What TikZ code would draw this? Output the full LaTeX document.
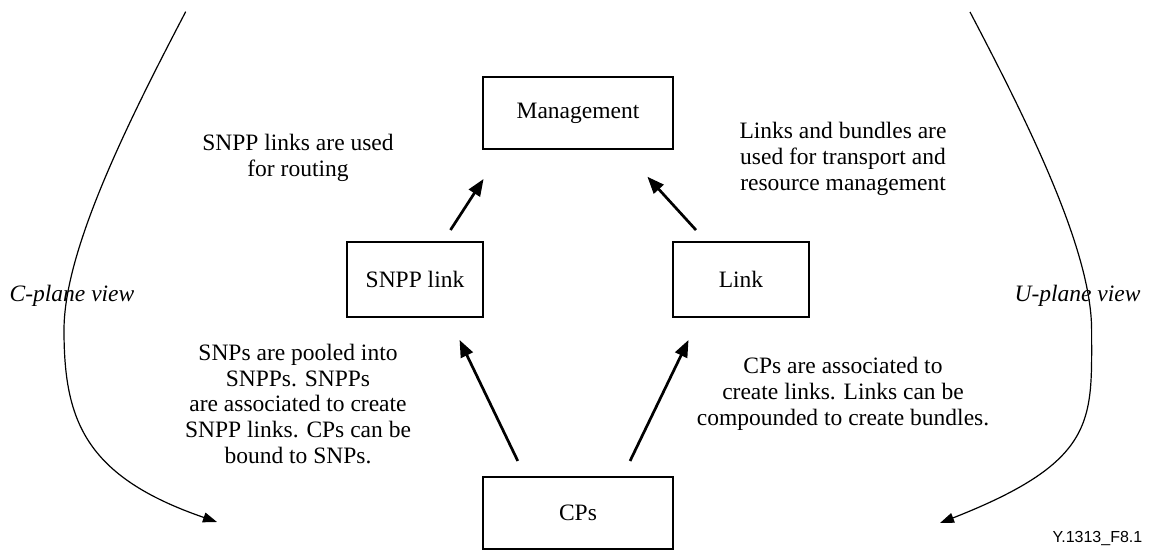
\documentclass[tikz,border=0pt]{standalone}
\usepackage{fontspec}
\setmainfont{Liberation Serif}
\newfontfamily\labelsans{Liberation Sans}
\usetikzlibrary{arrows.meta,calc}

\begin{document}
\begin{tikzpicture}[x=1pt,y=-1pt,
  txt/.style={font=\fontsize{23.5}{25.7}\selectfont},
  box/.style={txt, draw, line width=1.3pt, inner sep=0pt, outer sep=0pt},
  widebox/.style={box, minimum width=190pt, minimum height=72pt},
  narrowbox/.style={box, minimum width=136pt, minimum height=75pt},
  note/.style={txt, align=center, inner sep=0pt},
  viewlabel/.style={inner sep=0pt, font=\fontsize{23.5}{25.7}\selectfont\itshape},
  flow/.style={line width=2.7pt, -{Triangle[length=17pt,width=13pt]}},
  view/.style={line width=1.2pt, -{Triangle[length=14pt,width=10pt]}},
]
\useasboundingbox (0,0) rectangle (1150,553);

% the four boxes
\node[widebox]   (mgmt) at (578,113)   {Management};
\node[narrowbox] (snpp) at (415,279.5) {SNPP link};
\node[narrowbox] (link) at (741,279.5) {Link};
\node[widebox]   (cps)  at (578,513)   {CPs};

% arrows between the boxes
\draw[flow, shorten <=14.3pt, shorten >=35.7pt]
  ($(snpp.north)+(27.7,0)$) -- ($(mgmt.south)+(-75,0)$);
\draw[flow, shorten <=16.2pt, shorten >=37.5pt]
  ($(link.north)+(-34.1,0)$) -- ($(mgmt.south)+(44.1,0)$);
\draw[flow, shorten <=17.8pt, shorten >=25.5pt]
  ($(cps.north)+(-52.5,0)$) -- ($(snpp.south)+(33.5,0)$);
\draw[flow, shorten <=17.8pt, shorten >=25.5pt]
  ($(cps.north)+(44.3,0)$) -- ($(link.south)+(-41.4,0)$);

% explanatory notes
\node[note] (routing)   at (298,158) {SNPP links are used\\for routing};
\node[note] (transport) at (843,159) {Links and bundles are\\used for transport and\\resource management};
\node[note] (pooled)    at (298,404) {SNPs are pooled into\\SNPPs. SNPPs\\are associated to create\\SNPP links. CPs can be\\bound to SNPs.};
\node[note] (assoc)     at (843,394) {CPs are associated to\\create links. Links can be\\compounded to create bundles.};

% plane views
\coordinate (ctop) at (185.7,11.7);
\coordinate (cend) at (217,522);
\coordinate (utop) at (970,12);
\coordinate (uend) at (940,523);
\draw[view] (ctop) .. controls (128,122) and (64,250) .. (64,330)
                   .. controls (64,420) and (84.7,476.4) .. (cend);
\draw[view] (utop) .. controls (1027.6,122) and (1091.6,250) .. (1091.6,330)
                   .. controls (1091.6,420) and (1098,461) .. (uend);
\node[viewlabel] (cview) at (72,296)    {C-plane view};
\node[viewlabel] (uview) at (1077.5,296) {U-plane view};

% figure tag
\node[inner sep=0pt, font=\labelsans\fontsize{16}{18}\selectfont] (tag) at (1097.5,538) {Y.1313\_F8.1};
\end{tikzpicture}
\end{document}
